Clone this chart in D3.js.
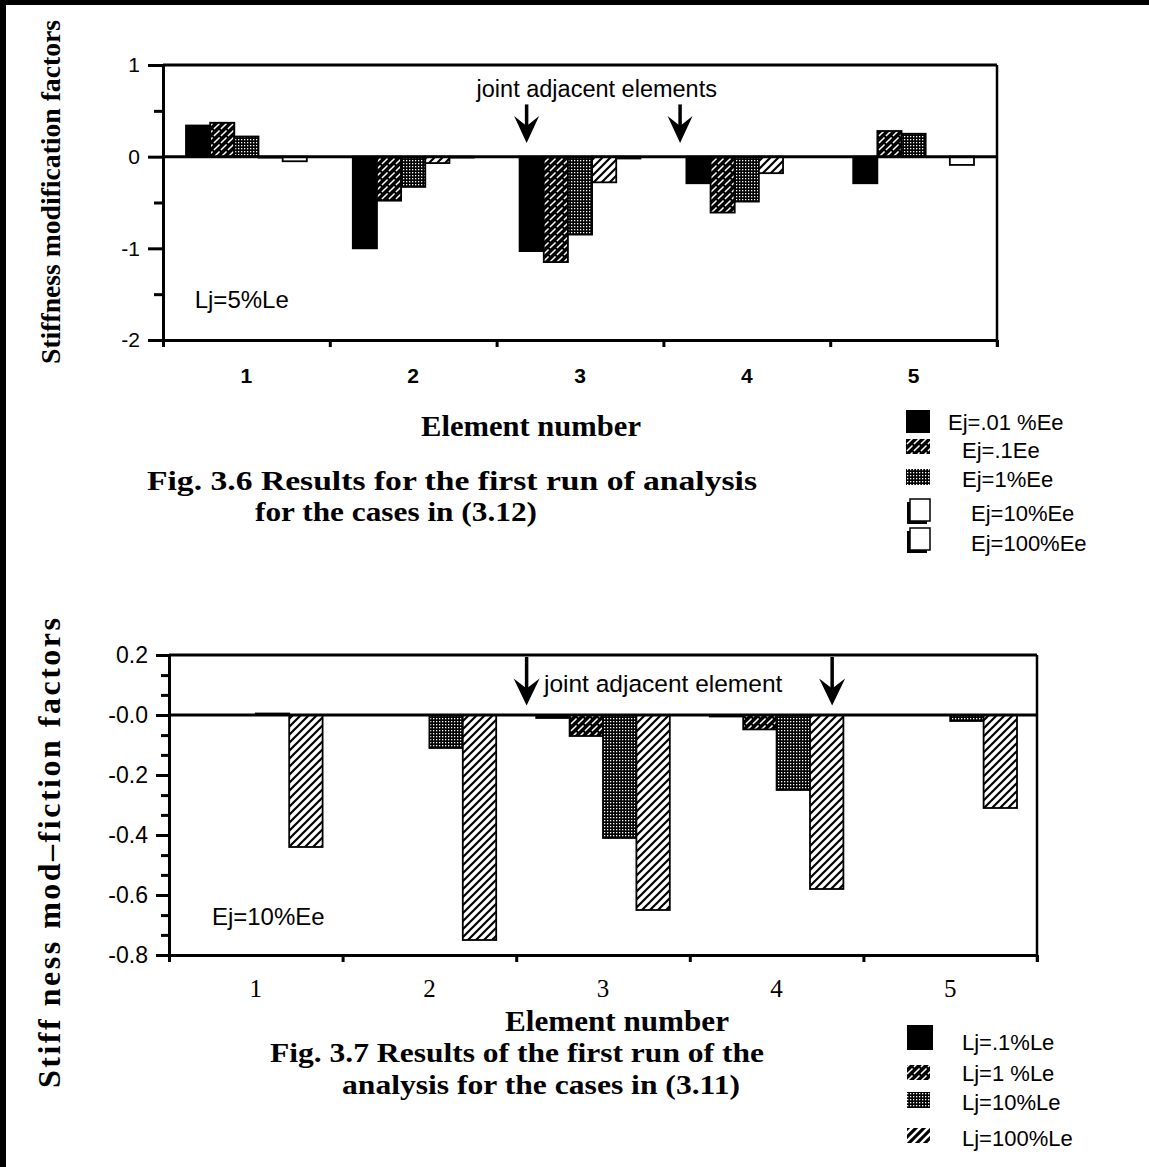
<!DOCTYPE html>
<meta charset="utf-8">
<style>
	body { margin: 0; background: #fff; }
	svg { display: block; background: #fff; }
	.sans { font-family: "Liberation Sans", Arial, Helvetica, sans-serif; }
	.serif { font-family: "Liberation Serif", "Times New Roman", Times, serif; }
	.axis path, .axis line { stroke: #000; stroke-width: 3px; }
	.axis text { fill: #000; }
</style>
<svg width="1149" height="1167"></svg>
<script src="https://d3js.org/d3.v7.min.js"></script>
<script>

var elements = ["1", "2", "3", "4", "5"];

// Fig. 3.6 (Lj = 5%Le)
var ejSeries = ["Ej=.01 %Ee", "Ej=.1Ee", "Ej=1%Ee", "Ej=10%Ee", "Ej=100%Ee"];
var ej001 = [0.34, -1.00, -1.03, -0.29, -0.29];
var ej01  = [0.37, -0.48, -1.15, -0.61, 0.28];
var ej1   = [0.22, -0.33, -0.85, -0.49, 0.25];
var ej10  = [-0.01, -0.07, -0.28, -0.18, 0.00];
var ej100 = [-0.05, -0.01, -0.02, 0.00, -0.09];
var topTicks = [1, 0, -1, -2];
var topTickLabels = ["1", "0", "-1", "-2"];
var topMinor = [0.5, -0.5, -1.5];

// Fig. 3.7 (Ej = 10%Ee)
var ljSeries = ["Lj=.1%Le", "Lj=1 %Le", "Lj=10%Le", "Lj=100%Le"];
var lj01  = [0.000, 0.000, -0.010, -0.005, 0.000];
var lj1   = [0.000, 0.000, -0.070, -0.048, 0.000];
var lj10  = [0.005, -0.110, -0.410, -0.250, -0.020];
var lj100 = [-0.44, -0.75, -0.65, -0.58, -0.31];
var botTicks = [0.2, 0, -0.2, -0.4, -0.6, -0.8];
var botTickLabels = ["0.2", "-0.0", "-0.2", "-0.4", "-0.6", "-0.8"];
var botMinor = [0.133, 0.067, -0.067, -0.133, -0.267, -0.333, -0.467, -0.533, -0.667, -0.733];

// arrows ("joint adjacent elements"), in element units
var topArrowsAt = [2.68, 3.60];
var botArrowsAt = [2.56, 4.32];

var svg = d3.select("svg");
var defs = svg.append("defs");

// fill patterns
var p = defs.append("pattern").attr("id", "fine").attr("patternUnits", "userSpaceOnUse")
	.attr("width", 7).attr("height", 7);
p.append("rect").attr("width", 7).attr("height", 7).attr("fill", "#000");
p.append("path").attr("d", "M-1,8L8,-1M-1,1L1,-1M6,8L8,6")
	.attr("stroke", "#fff").attr("stroke-width", 1.5).attr("stroke-dasharray", "5,2");

p = defs.append("pattern").attr("id", "dots").attr("patternUnits", "userSpaceOnUse")
	.attr("width", 3).attr("height", 3);
p.append("rect").attr("width", 3).attr("height", 3).attr("fill", "#000");
p.append("rect").attr("x", 1).attr("y", 1).attr("width", 1.3).attr("height", 1.3).attr("fill", "#fff");

p = defs.append("pattern").attr("id", "wide").attr("patternUnits", "userSpaceOnUse")
	.attr("width", 8).attr("height", 8);
p.append("rect").attr("width", 8).attr("height", 8).attr("fill", "#fff");
p.append("path").attr("d", "M-2,10L10,-2M-2,2L2,-2M6,10L10,6")
	.attr("stroke", "#000").attr("stroke-width", 2.2);

p = defs.append("pattern").attr("id", "wideInv").attr("patternUnits", "userSpaceOnUse")
	.attr("width", 8).attr("height", 8);
p.append("rect").attr("width", 8).attr("height", 8).attr("fill", "#000");
p.append("path").attr("d", "M-2,10L10,-2M-2,2L2,-2M6,10L10,6")
	.attr("stroke", "#fff").attr("stroke-width", 2.6);

var topFills = ["#000", "url(#fine)", "url(#dots)", "url(#wide)", "#fff"];
var botFills = ["#000", "url(#fine)", "url(#dots)", "url(#wide)"];

// page frame (scan border)
svg.append("rect").attr("x", 0).attr("y", 0).attr("width", 6).attr("height", 1167).attr("fill", "#000");
svg.append("rect").attr("x", 0).attr("y", 0).attr("width", 1149).attr("height", 5).attr("fill", "#000");

function arrow(g, x, y0, yTip, w) {
	g.append("line").attr("x1", x).attr("x2", x).attr("y1", y0).attr("y2", yTip - 10)
		.attr("stroke", "#000").attr("stroke-width", 3.5);
	g.append("path")
		.attr("d", "M" + x + "," + yTip + "L" + (x - w / 2) + "," + (yTip - 27) +
			"L" + x + "," + (yTip - 17) + "L" + (x + w / 2) + "," + (yTip - 27) + "Z")
		.attr("fill", "#000");
}

function barChart(o) {
	var g = svg.append("g");
	var x = d3.scaleBand().domain(elements).range([o.x0, o.x1]);
	var xLin = d3.scaleLinear().domain([0.5, 5.5]).range([o.x0, o.x1]);
	var xIn = d3.scaleBand().domain(d3.range(o.series.length))
		.range([o.pad, x.bandwidth() - o.pad]);
	var y = d3.scaleLinear().domain(o.domain).range([o.yBot, o.yTop]);

	var rows = [];
	o.values.forEach(function(vals, s) {
		vals.forEach(function(v, i) { rows.push({el: elements[i], s: s, v: v}); });
	});

	g.selectAll(".bar").data(rows.filter(function(d) { return d.v !== 0; }))
		.enter().append("rect").attr("class", "bar")
		.attr("x", function(d) { return x(d.el) + xIn(d.s); })
		.attr("width", xIn.bandwidth())
		.attr("y", function(d) { return Math.min(y(0), y(d.v)); })
		.attr("height", function(d) { return Math.abs(y(d.v) - y(0)); })
		.attr("fill", function(d) { return o.fills[d.s]; })
		.attr("stroke", "#000").attr("stroke-width", 1.8);

	// zero line
	g.append("line").attr("x1", o.x0).attr("x2", o.x1).attr("y1", y(0)).attr("y2", y(0))
		.attr("stroke", "#000").attr("stroke-width", 3);
	// top and right frame
	g.append("line").attr("x1", o.x0).attr("x2", o.x1).attr("y1", o.yTop).attr("y2", o.yTop)
		.attr("stroke", "#000").attr("stroke-width", 3);
	g.append("line").attr("x1", o.x1).attr("x2", o.x1).attr("y1", o.yTop).attr("y2", o.yBot + 7)
		.attr("stroke", "#000").attr("stroke-width", 2.5);

	// y axis, major and minor ticks
	var ya = g.append("g").attr("class", "axis").attr("transform", "translate(" + o.x0 + ",0)")
		.call(d3.axisLeft(y).tickValues(o.ticks).tickSize(o.tickLen).tickPadding(8)
			.tickFormat(function(d, i) { return o.tickLabels[i]; }));
	ya.attr("font-family", null).attr("font-size", null);
	ya.selectAll("text").attr("class", "sans").style("font-size", o.yFont + "px");
	g.append("g").attr("class", "axis").attr("transform", "translate(" + o.x0 + ",0)")
		.call(d3.axisLeft(y).tickValues(o.minor).tickSize(o.minorLen).tickFormat(""))
		.call(function(s) { s.select(".domain").remove(); });

	// x axis: boundary ticks, labels at group centres
	g.append("g").attr("class", "axis").attr("transform", "translate(0," + o.yBot + ")")
		.call(d3.axisBottom(xLin).tickValues([0.5, 1.5, 2.5, 3.5, 4.5, 5.5]).tickSize(7).tickSizeOuter(0).tickFormat(""));
	var xl = g.append("g").attr("transform", "translate(0," + o.yBot + ")")
		.call(d3.axisBottom(x).tickSize(0).tickPadding(o.xPad));
	xl.select(".domain").remove();
	xl.attr("font-family", null).attr("font-size", null);
	xl.selectAll("text").attr("class", o.xClass).style("font-size", o.xFont + "px")
		.style("font-weight", o.xWeight).attr("fill", "#000");

	return {x: xLin, y: y, g: g};
}

function serifText(x, y, size, len, str, anchor) {
	return svg.append("text").attr("class", "serif").attr("x", x).attr("y", y)
		.attr("text-anchor", anchor || "start").style("font-size", size + "px").style("font-weight", "bold")
		.attr("textLength", len).attr("lengthAdjust", "spacingAndGlyphs").text(str);
}

// ---------------- Fig. 3.6 ----------------
var t = barChart({
	x0: 163, x1: 997, yTop: 65, yBot: 340, domain: [-2, 1], pad: 23,
	series: ejSeries, values: [ej001, ej01, ej1, ej10, ej100], fills: topFills,
	ticks: topTicks, tickLabels: topTickLabels, minor: topMinor, tickLen: 15, minorLen: 9,
	yFont: 21, xPad: 28, xFont: 21, xClass: "sans", xWeight: "bold"
});
topArrowsAt.forEach(function(a) { arrow(t.g, t.x(a), t.y(0.57), t.y(0.15), 25); });
t.g.append("text").attr("class", "sans").attr("x", t.x(2.38)).attr("y", t.y(0.655))
	.style("font-size", "23.5px").text("joint adjacent elements");
t.g.append("text").attr("class", "sans").attr("x", t.x(0.69)).attr("y", t.y(-1.65))
	.style("font-size", "24px").text("Lj=5%Le");

svg.append("text").attr("class", "serif").attr("transform", "translate(60,192) rotate(-90)")
	.attr("text-anchor", "middle").style("font-size", "28px").style("font-weight", "bold")
	.attr("textLength", 344).attr("lengthAdjust", "spacingAndGlyphs")
	.text("Stiffness modification factors");
serifText(531, 436, 29, 220, "Element  number", "middle");
serifText(147, 490, 27, 610, "Fig. 3.6 Results for the first run of analysis");
serifText(255, 521, 27, 282, "for  the  cases  in  (3.12)");

// ---------------- Fig. 3.7 ----------------
var b = barChart({
	x0: 169, x1: 1037, yTop: 655, yBot: 955, domain: [-0.8, 0.2], pad: 20,
	series: ljSeries, values: [lj01, lj1, lj10, lj100], fills: botFills,
	ticks: botTicks, tickLabels: botTickLabels, minor: botMinor, tickLen: 13, minorLen: 8,
	yFont: 23, xPad: 24, xFont: 25, xClass: "serif", xWeight: "normal"
});
botArrowsAt.forEach(function(a) { arrow(b.g, b.x(a), b.y(0.2) + 2, b.y(0.032), 26); });
b.g.append("text").attr("class", "sans").attr("x", b.x(2.66)).attr("y", b.y(0.077))
	.style("font-size", "24.5px").text("joint adjacent element");
b.g.append("text").attr("class", "sans").attr("x", b.x(0.747)).attr("y", b.y(-0.70))
	.style("font-size", "24px").text("Ej=10%Ee");

svg.append("text").attr("class", "serif").attr("transform", "translate(60,853) rotate(-90)")
	.attr("text-anchor", "middle").style("font-size", "32px").style("font-weight", "bold")
	.attr("textLength", 470).attr("lengthAdjust", "spacing")
	.text("Stiff ness mod\u2013fiction  factors");
serifText(617, 1031, 29, 224, "Element number", "middle");
serifText(270, 1062, 27, 494, "Fig. 3.7 Results of the first run of the");
serifText(342, 1094, 27, 398, "analysis for the cases in (3.11)");

// ---------------- legends ----------------
function shadowBox(g, x, y, w, h) {
	g.append("rect").attr("x", x - 3).attr("y", y + 3).attr("width", w).attr("height", h).attr("fill", "#000");
	g.append("rect").attr("x", x).attr("y", y).attr("width", w).attr("height", h)
		.attr("fill", "#fff").attr("stroke", "#000").attr("stroke-width", 1.5);
}

var legTop = [
	{box: [906, 410, 24, 23], fill: "#000", tx: 948, ty: 430},
	{box: [906, 439, 24, 15], fill: "url(#fine)", tx: 962, ty: 458},
	{box: [906, 469, 24, 16], fill: "url(#dots)", tx: 962, ty: 487},
	{box: [910, 499, 20, 22], shadow: true, tx: 971, ty: 521},
	{box: [910, 528, 20, 22], shadow: true, tx: 971, ty: 551}
];
var legBot = [
	{box: [907, 1025, 26, 25], fill: "#000", tx: 962, ty: 1050},
	{box: [907, 1065, 23, 15], fill: "url(#fine)", tx: 962, ty: 1081},
	{box: [907, 1092, 23, 16], fill: "url(#dots)", tx: 962, ty: 1110},
	{box: [907, 1128, 23, 15], fill: "url(#wideInv)", tx: 962, ty: 1146}
];

function legend(rows, names) {
	var g = svg.append("g");
	rows.forEach(function(r, i) {
		if (r.shadow) shadowBox(g, r.box[0], r.box[1], r.box[2], r.box[3]);
		else g.append("rect").attr("x", r.box[0]).attr("y", r.box[1]).attr("width", r.box[2])
			.attr("height", r.box[3]).attr("fill", r.fill);
		g.append("text").attr("class", "sans").attr("x", r.tx).attr("y", r.ty)
			.style("font-size", "22px").text(names[i]);
	});
}
legend(legTop, ejSeries);
legend(legBot, ljSeries);

</script>
